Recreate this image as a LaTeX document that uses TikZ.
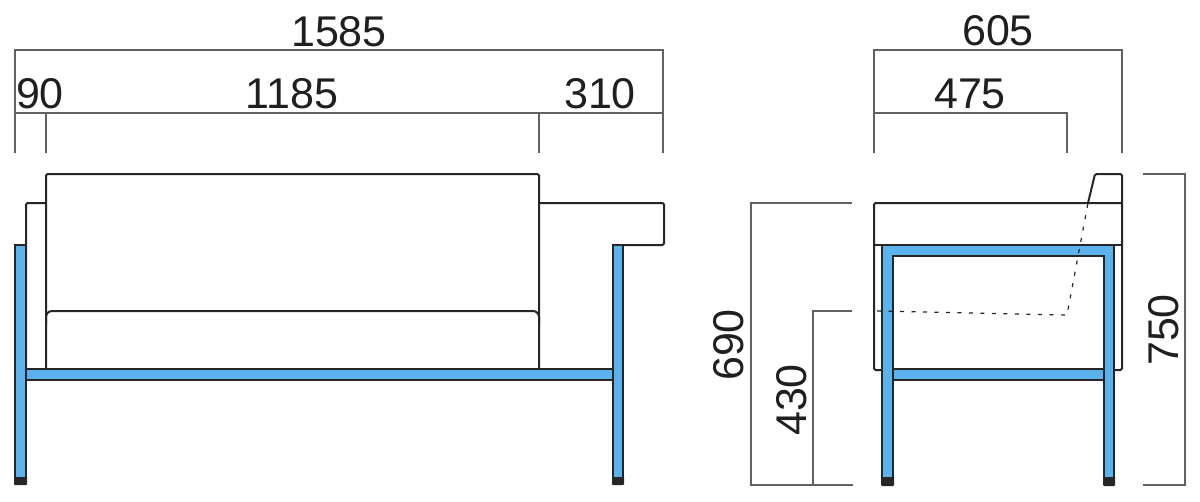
\documentclass[tikz,border=0pt]{standalone}
\usepackage{fontspec}
\setmainfont{Liberation Sans}
\tikzset{
  outline/.style={draw=black!85,line width=2pt,rounded corners=1.5pt},
  cushion/.style={outline,rounded corners=6pt},
  tube/.style={draw=black!85,fill=tubeblue,line width=2pt},
  glide/.style={fill=black!85,rounded corners=1pt},
  hidden/.style={draw=black!85,line width=1.2pt,dash pattern=on 4pt off 7.5pt},
  dimline/.style={draw=black!62,line width=1.2pt},
  dimtext/.style={inner sep=0pt,font=\fontsize{43}{43}\selectfont,text=black!88}
}
\definecolor{tubeblue}{HTML}{5CB2EC}

\begin{document}
\begin{tikzpicture}[x=1pt,y=-1pt]
\useasboundingbox (0,0) rectangle (1200,501);

% front view
\draw[outline] (46,369) -- (46,174) -- (539,174) -- (539,369);
\draw[outline] (46,203) -- (26,203) -- (26,369);
\draw[outline] (539,203) -- (664,203) -- (664,245) -- (613,245);
\draw[cushion] (46,325) -- (46,311) -- (539,311) -- (539,325);
\draw[outline] (26,369) -- (613,369);
\fill[glide] (14,476) rectangle (27,485);
\fill[glide] (612,476) rectangle (624,485);
\draw[tube] (26,369) rectangle (613,380);
\draw[tube] (15,245) rectangle (26,478);
\draw[tube] (613,245) rectangle (623,478);

% side view
\draw[outline] (882,370) -- (874,370) -- (874,203) -- (1122,203);
\draw[outline] (1088,203) -- (1095,174) -- (1122,174) -- (1122,370) -- (1114,370);
\draw[outline] (874,245) -- (1122,245);
\fill[glide] (881,476) rectangle (894,486);
\fill[glide] (1103,476) rectangle (1115,486);
\draw[tube] (893,369) rectangle (1104,380);
\draw[tube,even odd rule] (882,478) -- (882,245) -- (1114,245) -- (1114,478) -- (1104,478)
  -- (1104,256) -- (893,256) -- (893,478) -- cycle;
\draw[hidden] (877,311) -- (1067,315) -- (1088,203);

% dimensions
\node[dimtext] (overall) at (339,32) {1585};
\node[dimtext] (armleft) at (40,94) {90};
\node[dimtext] (inner) at (292,94) {1185};
\node[dimtext] (armright) at (600,94) {310};
\node[dimtext] (depth) at (998,31) {605};
\node[dimtext] (seatdepth) at (970,94) {475};
\node[dimtext,rotate=90] (armheight) at (729,345) {690};
\node[dimtext,rotate=90] (seatheight) at (792,400) {430};
\node[dimtext,rotate=90] (totalheight) at (1164,330) {750};

\draw[dimline] (15,153) -- (15,50) -- (663,50) -- (663,153);
\draw[dimline] (15,113) -- (663,113);
\draw[dimline] (46,113) -- (46,153);
\draw[dimline] (539,113) -- (539,153);
\draw[dimline] (874,153) -- (874,50) -- (1122,50) -- (1122,153);
\draw[dimline] (874,113) -- (1067,113) -- (1067,153);
\draw[dimline] (852,203) -- (751,203) -- (751,485) -- (853,485);
\draw[dimline] (852,311) -- (813,311) -- (813,485);
\draw[dimline] (1143,174) -- (1185,174) -- (1185,485) -- (1143,485);
\end{tikzpicture}
\end{document}
